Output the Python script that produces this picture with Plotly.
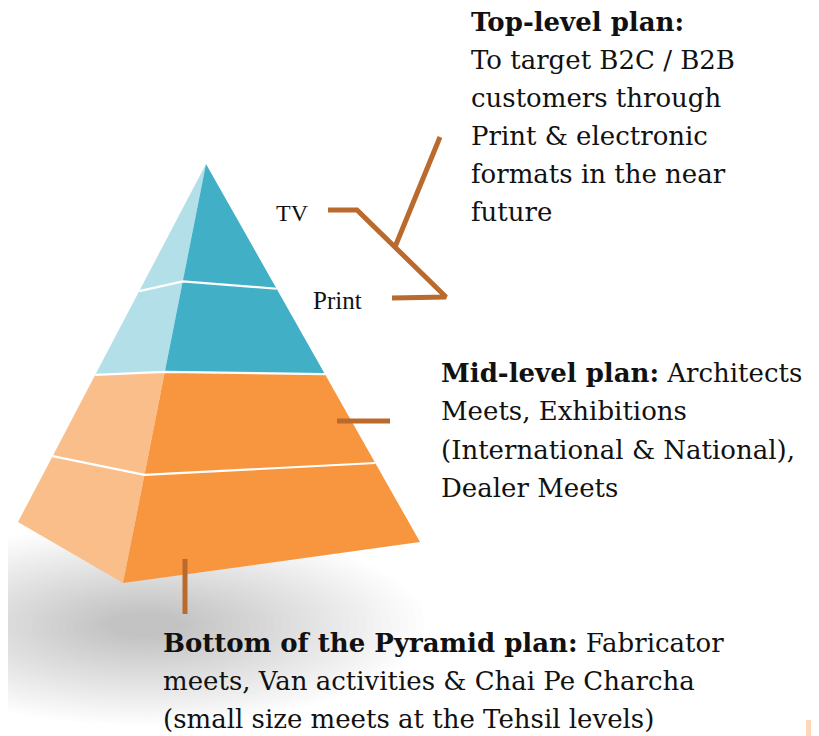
import plotly.graph_objects as go

# ---------------- data ----------------
levels = ["TV", "Print", "Mid-level", "Bottom"]
# fraction along each pyramid edge (apex=0, base=1) where each level ends
left_edge_t = [0.355, 0.589, 0.816, 1.0]
front_edge_t = [0.28, 0.496, 0.742, 1.0]
right_edge_t = [0.33, 0.556, 0.791, 1.0]
dark_colors = ["#41AFC6", "#41AFC6", "#F7963F", "#F7963F"]
light_colors = ["#B3E0E8", "#B3E0E8", "#F9BE8A", "#F9BE8A"]

top_lines = ["<b>Top-level plan:</b>", "To target B2C / B2B", "customers through",
             "Print & electronic", "formats in the near", "future"]
mid_lines = ["<b>Mid-level plan:</b> Architects", "Meets, Exhibitions",
             "(International & National),", "Dealer Meets"]
bottom_lines = ["<b>Bottom of the Pyramid plan:</b> Fabricator",
                "meets, Van activities & Chai Pe Charcha",
                "(small size meets at the Tehsil levels)"]
side_labels = ["TV", "Print"]
side_label_sizes = [24, 25]

# ---------------- geometry (pixel space) ----------------
W, H = 819, 736
OFF = 8  # page body margin
apex = (206, 164)
base_left = (18, 522)
base_front = (123, 583)
base_right = (420, 542)


def along(p, t):
    return (apex[0] + (p[0] - apex[0]) * t, apex[1] + (p[1] - apex[1]) * t)


fig = go.Figure()

prev = [0.0, 0.0, 0.0]
for i, name in enumerate(levels):
    cur = [left_edge_t[i], front_edge_t[i], right_edge_t[i]]
    L0, F0, R0 = along(base_left, prev[0]), along(base_front, prev[1]), along(base_right, prev[2])
    L1, F1, R1 = along(base_left, cur[0]), along(base_front, cur[1]), along(base_right, cur[2])
    xs = [L0[0], F0[0], F1[0], L1[0], L0[0]]
    ys = [L0[1], F0[1], F1[1], L1[1], L0[1]]
    fig.add_trace(go.Scatter(x=xs, y=ys, fill="toself", fillcolor=light_colors[i],
                             line=dict(width=0, color=light_colors[i]), mode="lines",
                             hoverinfo="skip", showlegend=False))
    xs = [F0[0], R0[0], R1[0], F1[0], F0[0]]
    ys = [F0[1], R0[1], R1[1], F1[1], F0[1]]
    fig.add_trace(go.Scatter(x=xs, y=ys, fill="toself", fillcolor=dark_colors[i],
                             line=dict(width=0, color=dark_colors[i]), mode="lines",
                             hoverinfo="skip", showlegend=False, name=name))
    prev = cur

for i in range(len(levels) - 1):
    L, F, R = along(base_left, left_edge_t[i]), along(base_front, front_edge_t[i]), along(base_right, right_edge_t[i])
    fig.add_trace(go.Scatter(x=[L[0], F[0], R[0]], y=[L[1], F[1], R[1]], mode="lines",
                             line=dict(color="white", width=2.2), hoverinfo="skip", showlegend=False))

brown = "#B96A2C"
connectors = [
    ([328, 357, 446, 392], [210, 210, 297, 298]),
    ([395, 440], [247, 137]),
    ([337, 390], [421, 421]),
    ([185, 185], [559, 614]),
]
for cx, cy in connectors:
    fig.add_trace(go.Scatter(x=cx, y=cy, mode="lines", line=dict(color=brown, width=5),
                             hoverinfo="skip", showlegend=False))

# soft shadow under pyramid
shapes = []
n = 30
for k in range(n):
    f = 1 - k / n
    cx, cy = 145, 625
    rx, ry = 250 * f + 30, 90 * f + 10
    shapes.append(dict(type="circle", xref="x", yref="y", x0=cx - rx, x1=cx + rx,
                       y0=cy - ry, y1=cy + ry, fillcolor="rgba(0,0,0,0.0075)",
                       line=dict(width=0), layer="below"))
shapes.append(dict(type="rect", xref="x", yref="y", x0=806, x1=816, y0=720, y1=736,
                   fillcolor="rgba(249,190,138,0.6)", line=dict(width=0), layer="below"))

font_main = "DejaVu Serif"
anns = []
def add_lines(lines, x0, y0, dy, size):
    for j, t in enumerate(lines):
        anns.append(dict(x=x0, y=y0 + j * dy, xref="x", yref="y", text=t, showarrow=False,
                         xanchor="left", yanchor="middle",
                         font=dict(family=font_main, size=size, color="#111111")))

add_lines(top_lines, 469, 22, 38, 26)
add_lines(mid_lines, 439, 373, 38.3, 26)
add_lines(bottom_lines, 161, 643, 38, 26)

label_pos_x = [274, 311]
label_pos_y = [213, 300]
for t, lx, ly, sz in zip(side_labels, label_pos_x, label_pos_y, side_label_sizes):
    anns.append(dict(x=lx, y=ly, xref="x", yref="y", text=t, showarrow=False,
                     xanchor="left", yanchor="middle",
                     font=dict(family="Liberation Serif", size=sz, color="#111111")))

fig.update_layout(
    width=W, height=H, margin=dict(l=0, r=0, t=0, b=0),
    paper_bgcolor="white", plot_bgcolor="white",
    xaxis=dict(range=[OFF, W + OFF], visible=False, fixedrange=True),
    yaxis=dict(range=[H + OFF, OFF], visible=False, fixedrange=True),
    shapes=shapes, annotations=anns, showlegend=False,
)

fig.write_html("out.html")
